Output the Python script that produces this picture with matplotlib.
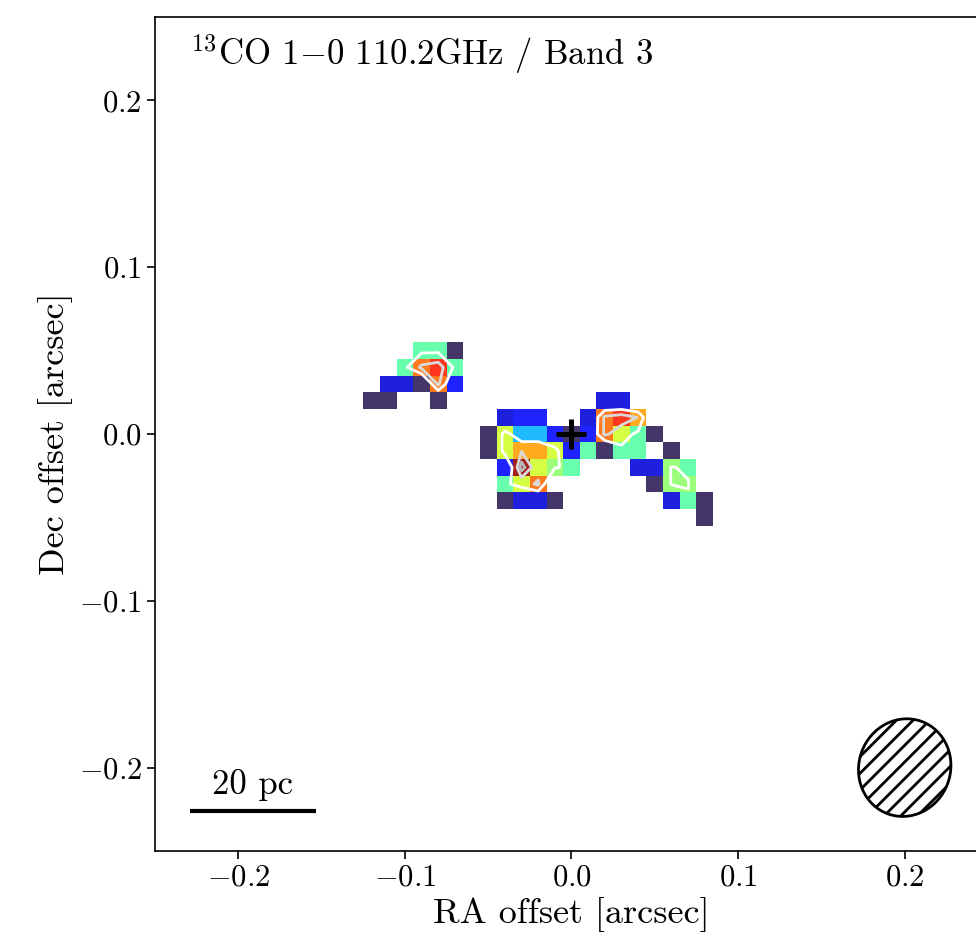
import numpy as np
import matplotlib
matplotlib.use("Agg")
import matplotlib.pyplot as plt
from matplotlib.colors import ListedColormap
from matplotlib.patches import Ellipse

plt.rcParams['font.family'] = 'cmr10'
plt.rcParams['mathtext.fontset'] = 'cm'
plt.rcParams['axes.formatter.use_mathtext'] = True
plt.rcParams['axes.unicode_minus'] = True
plt.rcParams['hatch.linewidth'] = 2.0

# ---- data ----
title_text = r'$^{13}$CO 1$-$0 110.2GHz / Band 3'
x_label = 'RA offset [arcsec]'
y_label = 'Dec offset [arcsec]'
x_ticks = [-0.2, -0.1, 0.0, 0.1, 0.2]
y_ticks = [-0.2, -0.1, 0.0, 0.1, 0.2]
pixel_size = 0.01                        # arcsec
col_index = list(range(-12, 9))          # RA pixel index
row_index = list(range(5, -6, -1))       # Dec pixel index (top to bottom)
# intensity codes per pixel (one string per Dec row, '.' = no emission)
code_rows = [
    "...CCP...............",
    "..CERC...............",
    ".DDPEB...............",
    "PP..P.........DD.....",
    "........DBB..DERO....",
    ".......PYLLBPBEYCP...",
    ".......PYOOYBCPCC.P..",
    "........BMYGC...DDGC.",
    "........CYE......PGG.",
    "........PDDP......DCP",
    "....................P",
]
code_values = {'P': 0.02, 'D': 0.08, 'B': 0.13, 'L': 0.30, 'C': 0.45,
               'G': 0.52, 'Y': 0.60, 'O': 0.74, 'E': 0.80, 'R': 0.88,
               'M': 0.98}
contour_levels = [0.5, 0.75, 0.9]
contour_colors = ['white', '#d9d9d9', '#b8b8b8']
beam_center = (0.2, -0.2)
beam_size = (0.055, 0.059)
beam_angle = -20
scalebar_x = [-0.229, -0.1534]
scalebar_y = -0.226
scalebar_label = '20 pc'

# ---- build grid ----
Z = np.array([[code_values.get(c, np.nan) for c in row] for row in code_rows])
xc = np.array(col_index) * pixel_size
yc = np.array(row_index) * pixel_size
xe = np.append(xc - pixel_size / 2, xc[-1] + pixel_size / 2)
ye = np.append(yc + pixel_size / 2, yc[-1] - pixel_size / 2)

jet = plt.cm.jet(np.linspace(0, 1, 256))
jet[:14] = np.array([0.17, 0.10, 0.33, 1.0])
cmap = ListedColormap(jet)
cmap.set_bad((1, 1, 1, 0))

fig = plt.figure(figsize=(9.76, 9.48), dpi=100)
ax = fig.add_axes([0.1588, 0.1023, 0.8535, 0.8797])

ax.pcolormesh(xe, ye, np.ma.masked_invalid(Z), cmap=cmap, vmin=0, vmax=1,
              alpha=0.88, shading='flat', edgecolors='none')
ax.contour(xc, yc, np.nan_to_num(Z), levels=contour_levels,
           colors=contour_colors, linewidths=2.0)

ax.plot([0], [0], marker='+', color='black', ms=21, mew=3.6)

beam = Ellipse(beam_center, beam_size[0], beam_size[1], angle=beam_angle,
               facecolor='none', edgecolor='black', lw=2, hatch='//')
ax.add_patch(beam)

ax.plot(scalebar_x, [scalebar_y, scalebar_y], color='black', lw=3,
        solid_capstyle='butt')
ax.text(np.mean(scalebar_x), scalebar_y + 0.006, scalebar_label,
        ha='center', va='bottom', fontsize=25)

ax.text(-0.229, 0.228, title_text, ha='left', va='center', fontsize=25)

ax.set_xlim(-0.25, 0.25)
ax.set_ylim(-0.25, 0.25)
ax.set_xticks(x_ticks)
ax.set_yticks(y_ticks)
ax.tick_params(labelsize=22, length=6, width=1.2)
ax.set_xlabel(x_label, fontsize=26)
ax.set_ylabel(y_label, fontsize=26)
for s in ax.spines.values():
    s.set_linewidth(1.2)

fig.savefig('out.png', dpi=100)
